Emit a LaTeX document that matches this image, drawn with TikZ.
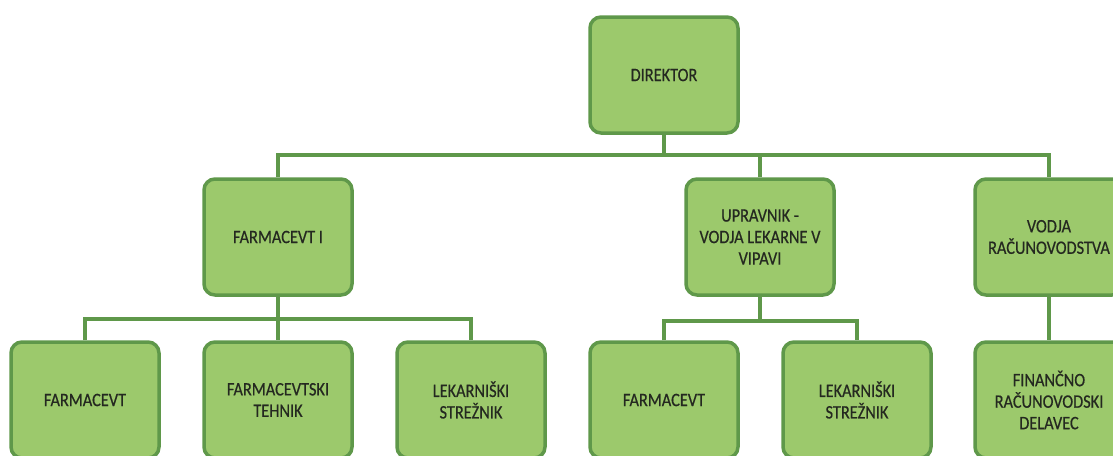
\documentclass[tikz,border=0pt]{standalone}
\usepackage{fontspec}
\setmainfont{Carlito}[FakeStretch=0.86, FakeBold=0.5]
\usetikzlibrary{positioning}

\definecolor{boxfill}{RGB}{156,201,108}
\definecolor{boxline}{RGB}{95,152,74}
\definecolor{boxtext}{RGB}{36,40,32}

\tikzset{
  post/.style={draw=boxline, line width=3.5pt, fill=boxfill, rounded corners=11pt,
    minimum width=148pt, minimum height=116pt, align=center, text=boxtext,
    font=\fontsize{19}{21.5}\selectfont},
  link/.style={draw=boxline, line width=3.5pt}
}

\begin{document}
\begin{tikzpicture}[x=1pt, y=-1pt]

  \useasboundingbox (0,0) rectangle (1113,455);
  \clip (0,0) rectangle (1113,455);

  \node [post] (dir)   at ( 664,  75) {DIREKTOR};

  \node [post] (farm1) at ( 278, 237) {FARMACEVT I};
  \node [post] (upr)   at ( 760, 237) {UPRAVNIK -\\VODJA LEKARNE V\\VIPAVI};
  \node [post] (vodja) at (1049, 237) {VODJA\\RAČUNOVODSTVA};

  \node [post] (farmA) at (  85, 400) {FARMACEVT};
  \node [post] (teh)   at ( 278, 400) {FARMACEVTSKI\\TEHNIK};
  \node [post] (strA)  at ( 471, 400) {LEKARNIŠKI\\STREŽNIK};
  \node [post] (farmB) at ( 664, 400) {FARMACEVT};
  \node [post] (strB)  at ( 857, 400) {LEKARNIŠKI\\STREŽNIK};
  \node [post] (fin)   at (1049, 400) {FINANČNO\\RAČUNOVODSKI\\DELAVEC};

  \coordinate (bus0) at (664, 155);
  \coordinate (bus1) at (278, 319);
  \coordinate (bus2) at (760, 321);

  % direktor
  \draw [link] (dir.south) -- (bus0);
  \draw [link] (farm1.north) |- (bus0) -| (vodja.north);
  \draw [link] (upr.north) -- (upr.north |- bus0);

  % farmacevt I
  \draw [link] (farm1.south) -- (teh.north);
  \draw [link] (farmA.north) |- (bus1) -| (strA.north);

  % upravnik
  \draw [link] (upr.south) -- (bus2);
  \draw [link] (farmB.north) |- (bus2) -| (strB.north);

  % vodja
  \draw [link] (vodja.south) -- (fin.north);

\end{tikzpicture}
\end{document}
